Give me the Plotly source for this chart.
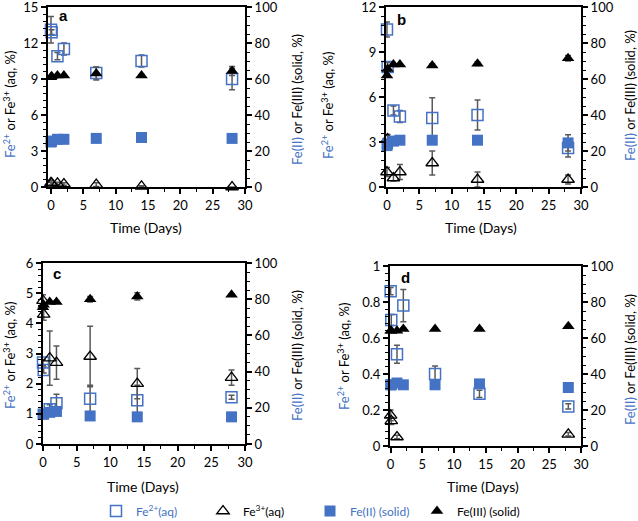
import plotly.graph_objects as go

# ---------------- data ----------------
times = [0, 0.1, 1, 2, 7, 14, 28]

# panel a
a_fe2 = [13.1, 12.9, 10.9, 11.5, 9.5, 10.5, 9.0]
a_fe2_err = [1.1, 0.2, 0.3, 0.5, 0.5, 0.5, 0.9]
a_fe3 = [0.35, 0.3, 0.3, 0.25, 0.2, 0.05, 0.0]
a_fe3_err = [0.2, 0.1, 0.1, 0.1, 0.15, 0.05, 0.0]
a_fe2s = [25.0, 25.5, 26.5, 26.5, 27.0, 27.5, 27.0]
a_fe2s_err = [0, 0, 0, 0, 0, 0, 0]
a_fe3s = [61.0, 61.5, 62.0, 62.0, 63.0, 62.0, 64.5]
a_fe3s_err = [0.5, 0.5, 0.5, 0.5, 3.5, 0.5, 2.5]

# panel b
b_fe2 = [10.5, 8.0, 5.1, 4.7, 4.6, 4.8, 2.6]
b_fe2_err = [0.5, 0.3, 0.3, 0.4, 1.35, 1.0, 0.6]
b_fe3 = [1.0, 3.2, 0.6, 1.0, 1.6, 0.5, 0.5]
b_fe3_err = [0.3, 0.3, 0.2, 0.5, 0.8, 0.5, 0.3]
b_fe2s = [23.0, 24.0, 25.5, 26.0, 26.0, 26.0, 24.5]
b_fe2s_err = [0, 0, 0, 0, 0, 0, 4.5]
b_fe3s = [62.0, 65.5, 68.0, 68.0, 67.5, 68.5, 71.5]
b_fe3s_err = [1.0, 1.0, 0.5, 0.5, 1.0, 1.0, 1.5]

# panel c
c_fe2 = [2.7, 2.45, 1.15, 1.35, 1.5, 1.45, 1.55]
c_fe2_err = [0.1, 0.1, 0.15, 0.3, 0.45, 0.5, 0.07]
c_fe3 = [4.75, 4.3, 2.85, 2.7, 2.9, 2.0, 2.2]
c_fe3_err = [0.2, 0.2, 0.9, 0.55, 1.0, 0.5, 0.25]
c_fe2s = [16.5, 16.5, 17.5, 18.0, 15.5, 15.0, 15.0]
c_fe2s_err = [0, 0, 0, 0, 0, 0, 0]
c_fe3s = [75.5, 77.0, 78.5, 78.5, 80.0, 81.5, 82.5]
c_fe3s_err = [1.0, 1.0, 0.5, 0.5, 1.5, 2.0, 0.5]

# panel d
d_fe2 = [0.86, 0.70, 0.51, 0.78, 0.40, 0.29, 0.22]
d_fe2_err = [0.02, 0.03, 0.05, 0.09, 0.045, 0.02, 0.015]
d_fe3 = [0.17, 0.14, 0.05, None, None, None, 0.065]
d_fe3_err = [0.03, 0.02, 0.01, 0, 0, 0, 0.01]
d_fe2s = [34.0, 34.0, 35.0, 34.0, 34.0, 34.5, 32.5]
d_fe2s_err = [0, 0, 0, 0, 0, 0, 0]
d_fe3s = [64.0, 64.0, 64.0, 65.0, 65.0, 65.0, 66.5]
d_fe3s_err = [0.5, 0.5, 0.5, 0.5, 0.5, 0.5, 0.5]

panel_labels = ["a", "b", "c", "d"]
left_ranges = [[0, 15], [0, 12], [0, 6], [0, 1]]
left_dticks = [3, 3, 1, 0.2]
right_range = [0, 100]
x_tickvals = [0, 5, 10, 15, 20, 25, 30]

names = ['<span style="color:#4472C4">Fe<sup>2+</sup>(aq)</span>',
         'Fe<sup>3+</sup>(aq)',
         '<span style="color:#4472C4">Fe(II) (solid)</span>',
         'Fe(III) (solid)']

BLUE = "#4472C4"
ERR = "#595959"
FONT = "Lato"

panels = [
    (a_fe2, a_fe2_err, a_fe3, a_fe3_err, a_fe2s, a_fe2s_err, a_fe3s, a_fe3s_err),
    (b_fe2, b_fe2_err, b_fe3, b_fe3_err, b_fe2s, b_fe2s_err, b_fe3s, b_fe3s_err),
    (c_fe2, c_fe2_err, c_fe3, c_fe3_err, c_fe2s, c_fe2s_err, c_fe3s, c_fe3s_err),
    (d_fe2, d_fe2_err, d_fe3, d_fe3_err, d_fe2s, d_fe2s_err, d_fe3s, d_fe3s_err),
]

W, H = 638, 521
# pixel boxes: (left, right, top, bottom)
boxes = [(48, 245, 7, 187), (386, 581, 7, 187), (43, 245, 263, 444), (390, 581, 266, 446)]
xstarts = [-0.46, -0.15, 0.0, -0.1]

fig = go.Figure()

def err(arr, vis=True):
    return dict(type="data", array=arr, visible=vis, color=ERR, thickness=1.5, width=3)

for i, (fe2, fe2e, fe3, fe3e, fe2s, fe2se, fe3s, fe3se) in enumerate(panels):
    xa = "x" if i == 0 else f"x{i+1}"
    yl = "y" if i == 0 else f"y{2*i+1}"
    yr = f"y{2*i+2}"
    show = i == 0
    # solid (right axis)
    fig.add_trace(go.Scatter(x=times, y=fe2s, mode="markers", name=names[2], legendrank=3,
                             showlegend=show, xaxis=xa, yaxis=yr, cliponaxis=False,
                             error_y=err(fe2se),
                             marker=dict(symbol="square", size=11, color=BLUE,
                                         line=dict(width=0))))
    fig.add_trace(go.Scatter(x=times, y=fe3s, mode="markers", name=names[3], legendrank=4,
                             showlegend=show, xaxis=xa, yaxis=yr, cliponaxis=False,
                             error_y=err(fe3se),
                             marker=dict(symbol="triangle-up", size=11, color="black",
                                         line=dict(width=0))))
    # aqueous (left axis)
    fig.add_trace(go.Scatter(x=times, y=fe2, mode="markers", name=names[0], legendrank=1,
                             showlegend=show, xaxis=xa, yaxis=yl, cliponaxis=False,
                             error_y=err(fe2e),
                             marker=dict(symbol="square-open", size=11, color=BLUE,
                                         line=dict(width=1.5, color=BLUE))))
    fig.add_trace(go.Scatter(x=times, y=fe3, mode="markers", name=names[1], legendrank=2,
                             showlegend=show, xaxis=xa, yaxis=yl, cliponaxis=False,
                             error_y=err(fe3e),
                             marker=dict(symbol="triangle-up-open", size=11, color="black",
                                         line=dict(width=1.3, color="black"))))

layout = dict(
    width=W, height=H, margin=dict(l=0, r=0, t=0, b=0, autoexpand=False),
    paper_bgcolor="white", plot_bgcolor="white",
    font=dict(family=FONT, size=13, color="black"),
    legend=dict(orientation="h", x=96 / W, xanchor="left", y=1 - 511 / H, yanchor="middle",
                entrywidth=62, entrywidthmode="pixels", font=dict(size=12),
                traceorder="normal", itemwidth=30, bgcolor="rgba(0,0,0,0)"),
)

annotations = []
for i in range(4):
    l, r, t, b = boxes[i]
    xd = [l / W, r / W]
    yd = [1 - b / H, 1 - t / H]
    xk = "xaxis" if i == 0 else f"xaxis{i+1}"
    ylk = "yaxis" if i == 0 else f"yaxis{2*i+1}"
    yrk = f"yaxis{2*i+2}"
    xa = "x" if i == 0 else f"x{i+1}"
    yl = "y" if i == 0 else f"y{2*i+1}"
    layout[xk] = dict(domain=xd, anchor=yl, range=[xstarts[i], 30], tickvals=x_tickvals,
                      showgrid=False, zeroline=False, showline=True, linecolor="black",
                      linewidth=2, mirror=True, ticks="outside", ticklen=5, tickwidth=1.5,
                      tickcolor="black", tickfont=dict(size=13), ticklabeloverflow="allow",
                      minor=dict(dtick=2.5, tick0=0, ticks="outside", ticklen=3,
                                 tickwidth=1, tickcolor="black"))
    lr = left_ranges[i]
    dt = left_dticks[i]
    layout[ylk] = dict(domain=yd, anchor=xa, range=lr, dtick=dt, tick0=0,
                       showgrid=False, zeroline=False, showline=True, linecolor="black",
                       linewidth=2, ticks="outside", ticklen=5, tickwidth=1.5,
                       tickcolor="black", tickfont=dict(size=13), ticklabeloverflow="allow",
                       minor=dict(dtick=dt / 5, tick0=0, ticks="outside", ticklen=3,
                                  tickwidth=1, tickcolor="black"))
    layout[yrk] = dict(overlaying=yl, anchor=xa, side="right", range=right_range, dtick=20,
                       tick0=0, showgrid=False, zeroline=False, showline=True,
                       linecolor="black", linewidth=2, ticks="outside", ticklen=5,
                       tickwidth=1.5, tickcolor="black", tickfont=dict(size=13),
                       ticklabeloverflow="allow",
                       minor=dict(dtick=5, tick0=0, ticks="outside", ticklen=3,
                                  tickwidth=1, tickcolor="black"))

# text placements (pixel centers)
left_title_pos = [(9, 105), (327, 105), (9, 356), (343, 357)]
right_title_pos = [(297, 100), (630, 96), (297, 356), (630, 360)]
xtitle_pos = [(146, 228), (481, 228), (143, 486), (483, 486)]
label_pos = [(63, 15), (401, 19), (57, 273), (405, 277)]

left_title = '<span style="color:#4472C4">Fe<sup>2+</sup></span> or Fe<sup>3+</sup> (aq, %)'
right_title = '<span style="color:#4472C4">Fe(II)</span> or Fe(III) (solid, %)'

for i in range(4):
    x, y = left_title_pos[i]
    annotations.append(dict(text=left_title, x=x / W, y=1 - y / H, xref="paper", yref="paper",
                            showarrow=False, textangle=-90, font=dict(size=13),
                            xanchor="center", yanchor="middle"))
    x, y = right_title_pos[i]
    annotations.append(dict(text=right_title, x=x / W, y=1 - y / H, xref="paper", yref="paper",
                            showarrow=False, textangle=-90, font=dict(size=13),
                            xanchor="center", yanchor="middle"))
    x, y = xtitle_pos[i]
    annotations.append(dict(text="Time (Days)", x=x / W, y=1 - y / H, xref="paper",
                            yref="paper", showarrow=False, font=dict(size=14),
                            xanchor="center", yanchor="middle"))
    x, y = label_pos[i]
    annotations.append(dict(text=f"<b>{panel_labels[i]}</b>", x=x / W, y=1 - y / H,
                            xref="paper", yref="paper", showarrow=False,
                            font=dict(size=15, family="Liberation Sans"),
                            xanchor="center", yanchor="middle"))

layout["annotations"] = annotations
fig.update_layout(**layout)
fig.write_html("out.html",
               config={"displayModeBar": False},
               post_script="document.body.style.margin='0px';"
                           "document.body.style.overflow='hidden';")
